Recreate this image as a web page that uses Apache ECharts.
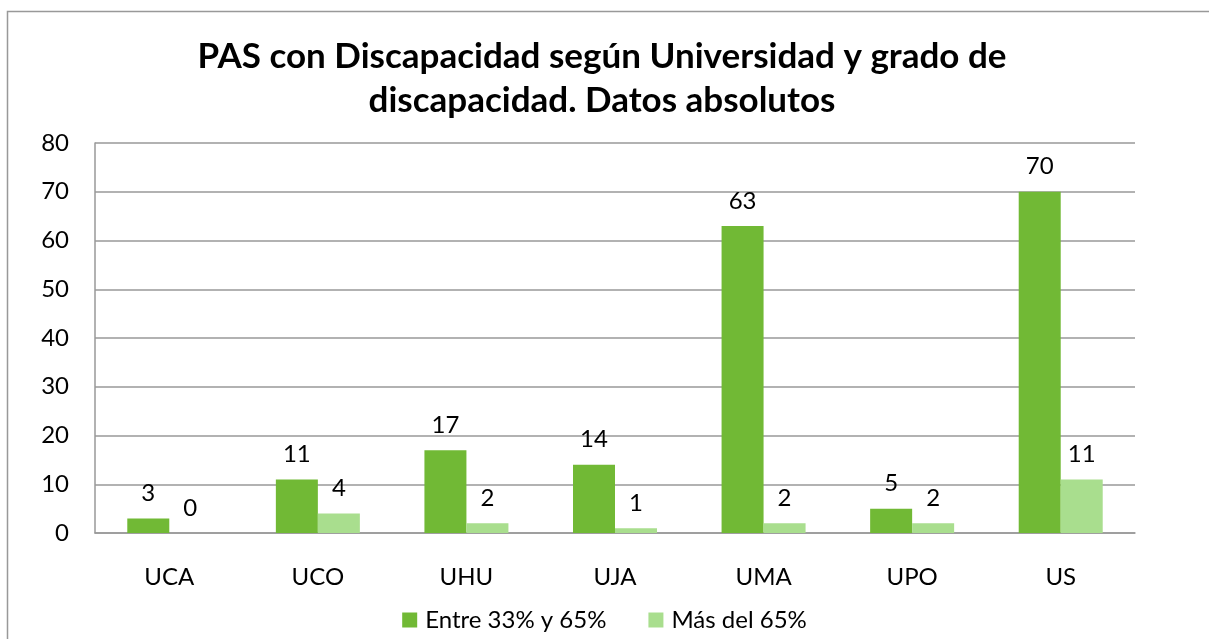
<!DOCTYPE html>
<html>
<head>
<meta charset="utf-8">
<script src="https://cdn.jsdelivr.net/npm/echarts@6/dist/echarts.min.js"></script>
<title>PAS con Discapacidad</title>
<style>
  html, body { margin: 0; padding: 0; background: #fff; }
  #main { width: 1209px; height: 639px; }
</style>
</head>
<body>
<div id="main"></div>
<script type="text/javascript">
    var universidades = ['UCA', 'UCO', 'UHU', 'UJA', 'UMA', 'UPO', 'US'];
    var entre33y65 = [3, 11, 17, 14, 63, 5, 70];
    var masDel65 = [0, 4, 2, 1, 2, 2, 11];
    var seriesNames = ['Entre 33% y 65%', 'Más del 65%'];
    var yTicks = { min: 0, max: 80, interval: 10 };

    var font = 'Lato, "Open Sans", sans-serif';
    var myChart = echarts.init(document.getElementById('main'));

    var labelStyle = {
        show: true,
        position: 'top',
        distance: 13,
        fontSize: 24,
        fontFamily: font,
        color: '#000'
    };

    var option = {
        animation: false,
        backgroundColor: '#fff',
        title: {
            text: 'PAS con Discapacidad según Universidad y grado de\ndiscapacidad. Datos absolutos',
            left: 597,
            textAlign: 'center',
            top: 30,
            textStyle: {
                fontFamily: font,
                fontSize: 35,
                fontWeight: 'bold',
                color: '#000',
                lineHeight: 44
            }
        },
        graphic: [{
            type: 'rect',
            shape: { x: 7.5, y: 11.5, width: 1400, height: 800 },
            style: { fill: 'none', stroke: '#999', lineWidth: 1.5 },
            silent: true
        }],
        legend: {
            data: seriesNames,
            bottom: 2,
            left: 'center',
            itemWidth: 15,
            itemHeight: 15,
            itemGap: 42,
            icon: 'rect',
            textStyle: { fontFamily: font, fontSize: 24, color: '#000', padding: [0, 0, 0, 3] }
        },
        grid: {
            left: 95,
            right: 74,
            top: 143,
            bottom: 106,
            containLabel: false
        },
        xAxis: {
            type: 'category',
            data: universidades,
            axisLine: { lineStyle: { color: '#999', width: 1.5 } },
            axisTick: { show: false },
            axisLabel: {
                fontFamily: font,
                fontSize: 24,
                color: '#000',
                margin: 32
            }
        },
        yAxis: {
            type: 'value',
            min: yTicks.min,
            max: yTicks.max,
            interval: yTicks.interval,
            axisLine: { show: true, lineStyle: { color: '#999', width: 1.5 } },
            axisTick: { show: false },
            splitLine: { lineStyle: { color: '#999', width: 1.5 } },
            axisLabel: {
                fontFamily: font,
                fontSize: 24,
                color: '#000',
                margin: 26
            }
        },
        series: [{
            name: seriesNames[0],
            type: 'bar',
            data: entre33y65,
            barWidth: 42,
            barGap: '0%',
            itemStyle: { color: '#71b935' },
            label: labelStyle
        }, {
            name: seriesNames[1],
            type: 'bar',
            data: masDel65,
            barWidth: 42,
            itemStyle: { color: '#a9de8e' },
            label: labelStyle
        }]
    };

    myChart.setOption(option);
</script>
</body>
</html>
